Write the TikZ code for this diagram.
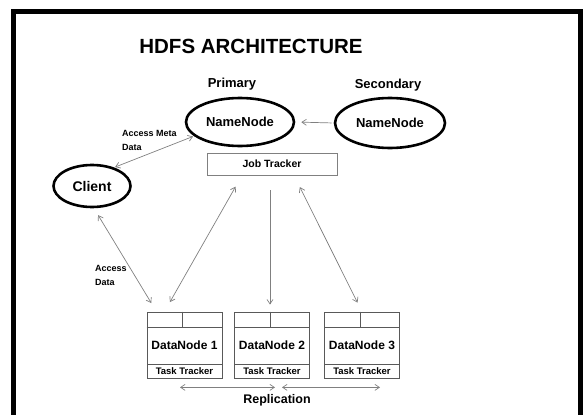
\documentclass[tikz,border=0pt]{standalone}
\usepackage{fontspec}
\setmainfont{Liberation Sans}
\usetikzlibrary{shapes.geometric, arrows.meta}

\begin{document}
\begin{tikzpicture}[x=1pt, y=-1pt, font=\bfseries,
    >={Straight Barb[length=4.5pt, width=6pt]},
    oval/.style={ellipse, draw, line width=2.6pt, inner sep=0pt},
    namenode/.style={oval, minimum width=108pt, minimum height=48pt, font=\fontsize{13}{15}\selectfont\bfseries},
    datanode/.style={rectangle, draw=black!65, line width=0.8pt, minimum width=75pt, minimum height=66pt, inner sep=0pt, font=\fontsize{12}{14}\selectfont\bfseries},
    tasktracker/.style={rectangle, draw=black!65, line width=0.8pt, minimum width=75pt, minimum height=14pt, inner sep=0pt, font=\fontsize{9.5}{11}\selectfont\bfseries},
    tag/.style={font=\fontsize{9}{14}\selectfont\bfseries, align=left, inner sep=0pt},
    link/.style={draw=black!50, line width=0.7pt}]
    \path[use as bounding box] (0,0) rectangle (584,415);
    \draw[line width=5pt] (13.5,430) -- (13.5,11.5) -- (580.5,11.5) -- (580.5,430);

    \node (title) at (251,46) {\fontsize{20.5}{24}\selectfont HDFS ARCHITECTURE};
    \node (primary) at (232,84) {\fontsize{13}{15}\selectfont Primary};
    \node (secondary) at (388,85) {\fontsize{13}{15}\selectfont Secondary};

    \node[namenode] (nn) at (240,122) {NameNode};
    \node[namenode, minimum width=110pt, minimum height=50pt] (snn) at (390,123) {NameNode};
    \node[rectangle, draw=black!50, line width=0.8pt, minimum width=130pt, minimum height=22pt,
          font=\fontsize{10.5}{12}\selectfont\bfseries] (jt) at (272,164) {Job Tracker};
    \node[oval, minimum width=77pt, minimum height=42pt, font=\fontsize{14}{16}\selectfont\bfseries] (client) at (92,186) {Client};

    % data nodes with their task trackers
    \foreach \i/\x in {1/184.5, 2/272, 3/362} {
        \node[datanode] (dn\i) at (\x,345) {DataNode \i};
        \node[tasktracker, anchor=south] (tt\i) at (dn\i.south) {Task Tracker};
        \draw[draw=black!65, line width=0.8pt] ([yshift=-16pt]dn\i.north west) -- ([yshift=-16pt]dn\i.north east);
        \draw[draw=black!65, line width=0.8pt] ([xshift=-2pt]dn\i.north) -- ([xshift=-2pt, yshift=-16pt]dn\i.north);
    }

    \node[tag, anchor=west] (meta) at (122,140) {Access Meta\\Data};
    \node[tag, anchor=west] (access) at (95,275) {Access\\Data};
    \node (repl) at (277,400) {\fontsize{12.5}{14}\selectfont Replication};

    % connectors
    \draw[link, ->, shorten <=2pt, shorten >=6pt] (snn.west) -- (nn.east);
    \draw[link, <->, shorten <=1pt, shorten >=1pt] (client.40) -- (nn.197);
    \draw[link, <->, shorten <=8pt, shorten >=10pt] (client.275) -- ([xshift=-28pt]dn1.north);
    \draw[link, <->, shorten <=13pt, shorten >=11pt] ([xshift=-30pt]jt.south) -- ([xshift=-20pt]dn1.north);
    \draw[link, ->, shorten <=15pt, shorten >=7pt] ([xshift=-2pt]jt.south) -- ([xshift=-2pt]dn2.north);
    \draw[link, <->, shorten <=13pt, shorten >=10pt] ([xshift=22pt]jt.south) -- (dn3.north);
    \draw[link, <->] ([xshift=-4.5pt, yshift=-9pt]dn1.south) -- ([xshift=3pt, yshift=-9pt]dn2.south);
    \draw[link, <->] ([xshift=10pt, yshift=-9pt]dn2.south) -- ([xshift=18pt, yshift=-9pt]dn3.south);
\end{tikzpicture}
\end{document}
